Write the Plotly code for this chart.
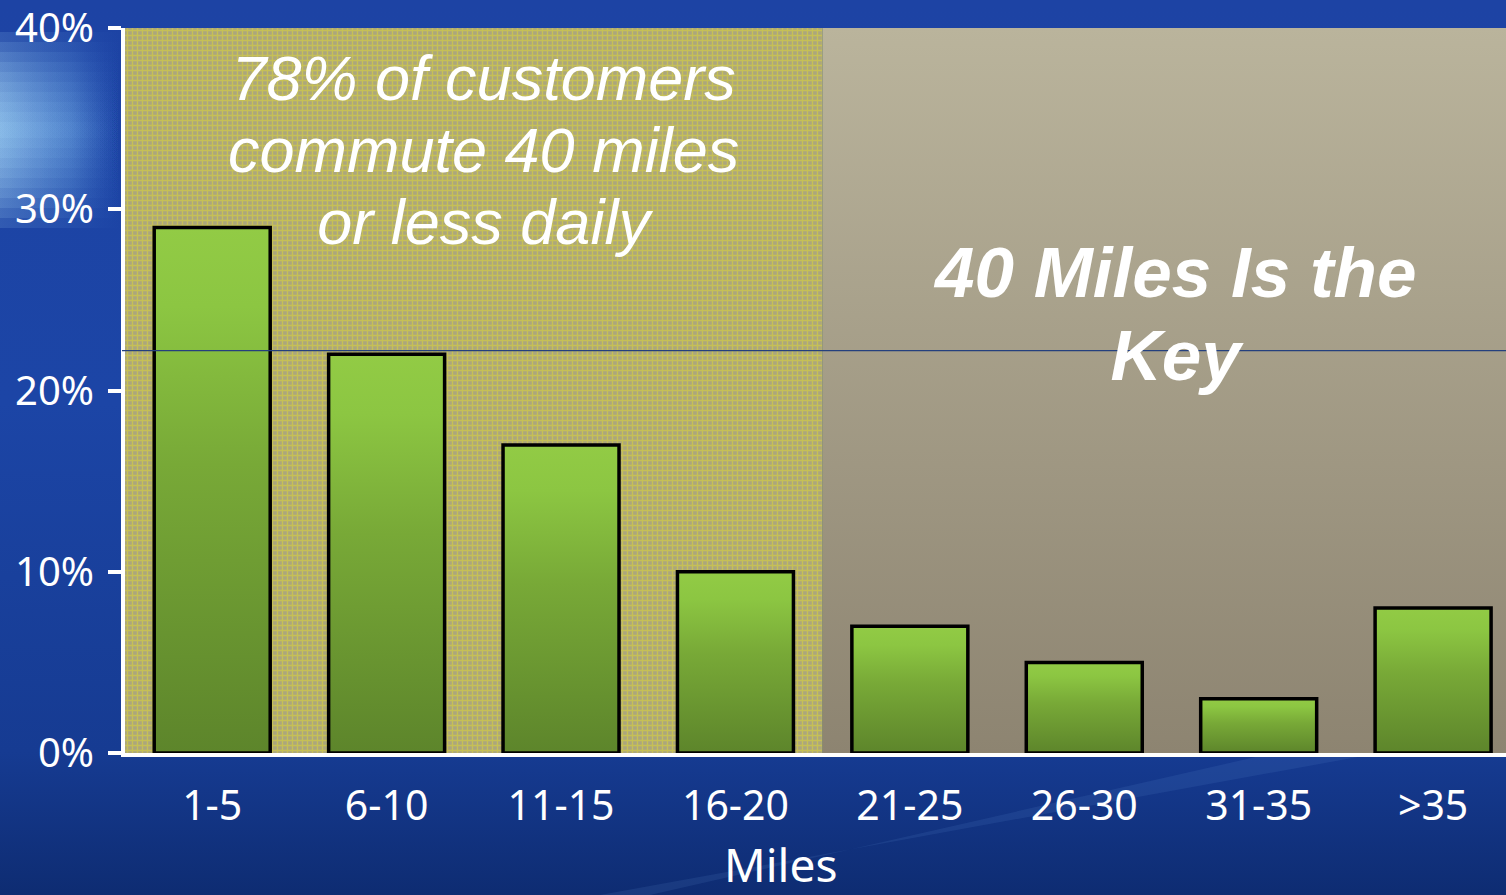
import plotly.graph_objects as go

# ---- data ----
categories = ["1-5", "6-10", "11-15", "16-20", "21-25", "26-30", "31-35", ">35"]
shares = [29, 22, 17, 10, 7, 5, 3, 8]
y_tick_values = [0, 10, 20, 30, 40]
y_tick_labels = ["0%", "10%", "20%", "30%", "40%"]
highlight_count = 4          # categories summing to 78%
ref_level = 22.2             # thin reference line
note_left_lines = ["78% of customers", "commute 40 miles", "or less daily"]
note_right_lines = ["40 Miles Is the", "Key"]
x_title = "Miles"

W, H = 1506, 895
FONT = "Noto Sans"
NOTE_FONT = "Liberation Sans"
bar_w = 0.665

fig = go.Figure()

# ---- background (full-page subplot) ----
fig.add_trace(go.Scatter(
    x=[0, 1, 1, 0, 0], y=[0, 0, 1, 1, 0], fill="toself", mode="none",
    fillgradient=dict(type="vertical",
                      colorscale=[[0, "#0e2c72"], [0.16, "#163b92"], [0.55, "#1c45a6"], [1, "#1d43a4"]]),
    hoverinfo="skip", showlegend=False, xaxis="x", yaxis="y"))
# soft light glow at the left edge
for half in range(8, 100, 10):
    c = 130
    y0, y1 = c - half, c + half
    fig.add_trace(go.Scatter(
        x=[0, 0.08, 0.08, 0, 0], y=[1 - y1 / H, 1 - y1 / H, 1 - y0 / H, 1 - y0 / H, 1 - y1 / H],
        fill="toself", mode="none",
        fillgradient=dict(type="horizontal",
                          colorscale=[[0, "rgba(160,210,245,0.16)"], [0.6, "rgba(120,180,235,0.08)"],
                                      [1, "rgba(80,140,220,0)"]]),
        hoverinfo="skip", showlegend=False, xaxis="x", yaxis="y"))
# faint diagonal streak in the lower band
fig.add_trace(go.Scatter(
    x=[600 / W, 650 / W, 1506 / W, 1506 / W, 600 / W],
    y=[0, 0, 1 - 700 / H, 1 - 730 / H, 0],
    fill="toself", mode="none", fillcolor="rgba(110,160,225,0.12)",
    hoverinfo="skip", showlegend=False, xaxis="x", yaxis="y"))

# ---- plot area regions ----
n = len(categories)
fig.add_trace(go.Scatter(
    x=[-0.5, -0.5, highlight_count - 0.5, highlight_count - 0.5, -0.5],
    y=[0, y_tick_values[-1], y_tick_values[-1], 0, 0],
    fill="toself", mode="none", fillcolor="#bdb85a",
    fillpattern=dict(shape="+", bgcolor="#aca67c", fgcolor="#e0da30", size=5, solidity=0.45),
    hoverinfo="skip", showlegend=False, xaxis="x2", yaxis="y2"))
fig.add_trace(go.Scatter(
    x=[highlight_count - 0.5, highlight_count - 0.5, n - 0.5, n - 0.5, highlight_count - 0.5],
    y=[0, y_tick_values[-1], y_tick_values[-1], 0, 0],
    fill="toself", mode="none",
    fillgradient=dict(type="vertical", colorscale=[[0, "#8d8471"], [1, "#bab49c"]]),
    hoverinfo="skip", showlegend=False, xaxis="x2", yaxis="y2"))

# ---- bars ----
for i, v in enumerate(shares):
    x0, x1 = i - bar_w / 2, i + bar_w / 2
    fig.add_trace(go.Scatter(
        x=[x0, x0, x1, x1, x0], y=[0, v, v, 0, 0], fill="toself", mode="lines",
        line=dict(color="black", width=3.5),
        fillgradient=dict(type="vertical",
                          colorscale=[[0, "#5d852b"], [0.55, "#78a937"], [0.85, "#8cc642"], [1, "#92cb45"]]),
        name=categories[i], hovertemplate=f"{categories[i]}: {v}%<extra></extra>",
        showlegend=False, xaxis="x2", yaxis="y2"))

left_text = "<br>".join(f'<span style="font-size:63px"><i>{t}</i></span>' for t in note_left_lines)
right_text = "<br>".join(f'<span style="font-size:71px"><b><i>{t}</i></b></span>' for t in note_right_lines)

annotations = [
    dict(text=left_text, xref="paper", yref="paper", x=483 / W, y=1 - 150 / H,
         xanchor="center", yanchor="middle", showarrow=False, align="center",
         font=dict(size=55.5, color="white", family=NOTE_FONT)),
    dict(text=right_text, xref="paper", yref="paper", x=1174 / W, y=1 - 314 / H,
         xanchor="center", yanchor="middle", showarrow=False, align="center",
         font=dict(size=64, color="white", family=NOTE_FONT)),
    dict(text=x_title, xref="paper", yref="paper", x=780 / W, y=1 - 864 / H,
         xanchor="center", yanchor="middle", showarrow=False,
         font=dict(size=46, color="white", family=FONT)),
]

fig.update_layout(
    width=W, height=H,
    margin=dict(l=0, r=0, t=0, b=0, autoexpand=False),
    paper_bgcolor="#1b46a6", plot_bgcolor="rgba(0,0,0,0)",
    font=dict(family=FONT, color="white"),
    xaxis=dict(domain=[0, 1], range=[0, 1], visible=False, fixedrange=True),
    yaxis=dict(domain=[0, 1], range=[0, 1], visible=False, fixedrange=True),
    xaxis2=dict(domain=[125 / W, 1], anchor="y2", range=[-0.5, 7.418],
                tickvals=list(range(n)), ticktext=categories,
                showgrid=False, zeroline=False, showline=True, linecolor="white", linewidth=4,
                ticks="", tickfont=dict(size=41, color="white", family=FONT),
                ticklabelstandoff=14),
    yaxis2=dict(domain=[142 / H, 1 - 28 / H], anchor="x2", range=[0, 40],
                tickvals=y_tick_values, ticktext=y_tick_labels,
                showgrid=False, zeroline=False, showline=True, linecolor="white", linewidth=4,
                ticks="outside", ticklen=13, tickwidth=4, tickcolor="white",
                tickfont=dict(size=40, color="white", family=FONT),
                ticklabelstandoff=6, ticklabeloverflow="allow"),
    shapes=[dict(type="line", xref="paper", yref="y2", x0=122 / W, x1=1, y0=ref_level, y1=ref_level,
                 line=dict(color="#24407e", width=1.2), layer="above")],
    annotations=annotations,
)

fig.write_html("out.html")
